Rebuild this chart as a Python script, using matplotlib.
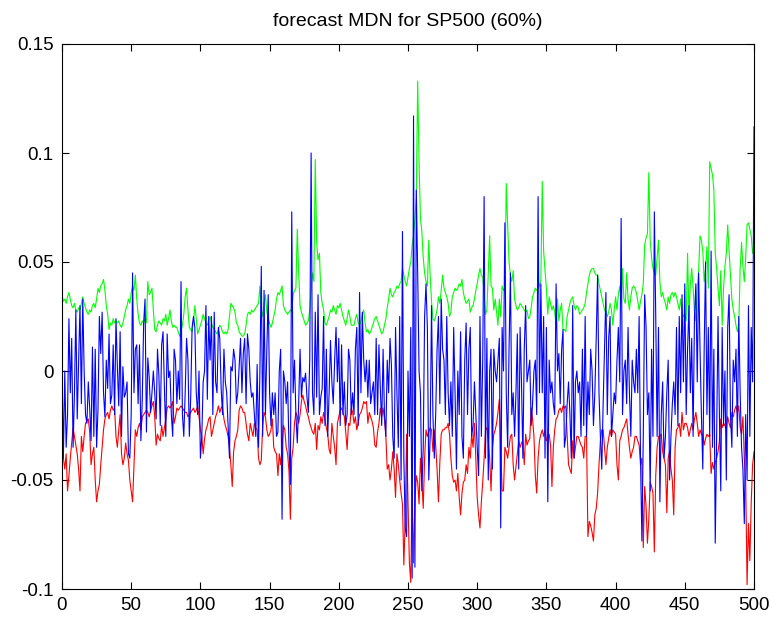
import matplotlib
matplotlib.use("Agg")
import matplotlib.pyplot as plt
import numpy as np

# Forecast band and realised returns, values in thousandths (index 0..500)
upper = [
    35, 32, 33, 31, 34, 36, 33, 30, 29, 31,
    28, 27, 29, 28, 31, 34, 31, 29, 27, 26,
    28, 27, 30, 31, 29, 33, 38, 36, 39, 40,
    42, 37, 30, 26, 19, 22, 21, 24, 22, 23,
    22, 23, 21, 20, 22, 25, 28, 30, 33, 31,
    36, 39, 37, 44, 33, 26, 22, 21, 23, 22,
    24, 22, 41, 35, 36, 38, 28, 19, 18, 21,
    23, 22, 21, 24, 23, 26, 21, 24, 28, 23,
    20, 21, 20, 20, 18, 16, 18, 21, 26, 34,
    38, 28, 20, 19, 18, 23, 30, 24, 17, 19,
    21, 23, 26, 24, 22, 21, 23, 25, 22, 20,
    19, 18, 17, 19, 21, 20, 18, 17, 18, 17,
    19, 25, 31, 30, 29, 27, 22, 21, 18, 17,
    16, 16, 17, 21, 26, 27, 26, 28, 27, 28,
    29, 30, 31, 39, 28, 25, 31, 35, 27, 24,
    22, 20, 22, 25, 28, 33, 36, 35, 37, 39,
    30, 28, 27, 26, 27, 28, 27, 35, 37, 38,
    65, 45, 30, 27, 25, 23, 21, 22, 23, 28,
    37, 45, 41, 97, 59, 51, 54, 36, 31, 28,
    22, 21, 23, 25, 28, 27, 30, 28, 26, 30,
    29, 31, 28, 25, 23, 21, 24, 28, 25, 21,
    21, 21, 24, 26, 22, 21, 23, 26, 28, 22,
    18, 19, 17, 18, 20, 22, 24, 25, 23, 21,
    19, 17, 18, 21, 24, 29, 33, 38, 35, 34,
    36, 37, 39, 38, 40, 41, 47, 44, 41, 39,
    43, 47, 50, 58, 62, 70, 80, 133, 95, 70,
    64, 52, 45, 41, 39, 60, 44, 32, 24, 23,
    25, 28, 34, 31, 37, 44, 38, 36, 34, 31,
    25, 27, 34, 36, 38, 37, 38, 40, 39, 42,
    36, 33, 31, 32, 33, 27, 29, 30, 33, 37,
    40, 44, 47, 44, 43, 35, 26, 28, 45, 62,
    39, 38, 28, 33, 27, 21, 33, 25, 39, 37,
    38, 86, 67, 50, 44, 41, 46, 33, 30, 28,
    29, 31, 30, 29, 28, 27, 28, 24, 25, 29,
    34, 36, 38, 37, 38, 39, 42, 87, 55, 46,
    38, 26, 34, 31, 28, 30, 27, 21, 33, 23,
    28, 31, 19, 19, 18, 25, 28, 31, 33, 34,
    30, 28, 30, 29, 26, 27, 28, 29, 31, 36,
    40, 44, 46, 47, 47, 45, 44, 44, 40, 37,
    34, 31, 28, 27, 25, 27, 31, 28, 21, 28,
    34, 28, 35, 39, 31, 47, 33, 31, 45, 33,
    28, 34, 38, 39, 38, 36, 32, 28, 32, 35,
    40, 58, 61, 63, 91, 60, 52, 47, 45, 44,
    52, 60, 41, 34, 36, 33, 31, 28, 34, 31,
    35, 36, 34, 36, 34, 31, 28, 33, 27, 25,
    26, 23, 54, 25, 40, 47, 38, 27, 23, 38,
    46, 62, 60, 55, 41, 47, 57, 38, 96, 93,
    90, 83, 54, 47, 38, 30, 46, 21, 38, 48,
    54, 67, 55, 44, 33, 28, 25, 21, 18, 21,
    47, 59, 48, 41, 52, 67, 68, 65, 62, 54,
    58,
]

lower = [
    -20, -40, -45, -38, -55, -48, -40, -33, -26, -30,
    -34, -38, -45, -55, -30, -37, -30, -24, -23, -22,
    -28, -43, -38, -35, -50, -60, -55, -52, -43, -35,
    -27, -22, -20, -19, -22, -18, -16, -18, -17, -30,
    -35, -27, -20, -38, -43, -40, -33, -38, -41, -50,
    -55, -60, -43, -27, -30, -26, -24, -27, -21, -20,
    -19, -18, -19, -21, -18, -16, -14, -21, -34, -29,
    -31, -32, -25, -30, -26, -22, -17, -16, -17, -16,
    -14, -24, -21, -17, -18, -17, -16, -17, -18, -19,
    -19, -21, -20, -19, -18, -17, -19, -18, -16, -21,
    -27, -30, -38, -31, -27, -25, -22, -21, -30, -27,
    -24, -21, -19, -16, -19, -17, -16, -22, -25, -27,
    -30, -35, -43, -53, -37, -32, -30, -27, -18, -16,
    -17, -19, -19, -24, -29, -32, -24, -27, -30, -24,
    -26, -27, -40, -43, -41, -25, -19, -21, -27, -30,
    -29, -27, -22, -35, -37, -38, -48, -38, -43, -35,
    -25, -27, -35, -38, -46, -68, -40, -35, -24, -19,
    -21, -24, -20, -14, -11, -14, -16, -19, -21, -24,
    -26, -28, -29, -24, -36, -25, -27, -21, -24, -19,
    -22, -26, -29, -36, -38, -24, -30, -35, -43, -24,
    -21, -18, -17, -19, -21, -28, -36, -24, -25, -17,
    -19, -24, -21, -27, -24, -20, -19, -17, -14, -15,
    -14, -24, -19, -21, -23, -26, -34, -35, -28, -24,
    -17, -21, -17, -22, -30, -45, -43, -50, -45, -37,
    -45, -58, -38, -43, -50, -56, -61, -89, -68, -29,
    -60, -88, -97, -55, -88, -60, -48, -51, -61, -40,
    -50, -63, -40, -27, -30, -28, -26, -27, -37, -27,
    -34, -45, -60, -42, -29, -27, -27, -26, -26, -24,
    -29, -40, -48, -51, -50, -55, -47, -58, -66, -56,
    -51, -50, -43, -47, -35, -40, -29, -35, -24, -40,
    -58, -66, -72, -60, -51, -40, -27, -26, -32, -40,
    -55, -35, -29, -27, -24, -19, -13, -35, -55, -55,
    -35, -37, -40, -35, -30, -29, -43, -50, -44, -38,
    -32, -35, -33, -32, -43, -29, -34, -32, -31, -17,
    -22, -30, -48, -56, -40, -32, -29, -27, -30, -27,
    -32, -30, -29, -34, -53, -35, -27, -22, -21, -18,
    -17, -19, -16, -17, -16, -30, -43, -45, -47, -32,
    -40, -35, -30, -30, -32, -34, -35, -40, -30, -30,
    -76, -69, -71, -74, -78, -66, -63, -56, -43, -32,
    -27, -27, -35, -43, -35, -31, -27, -30, -27, -28,
    -29, -43, -50, -32, -30, -27, -26, -24, -22, -29,
    -35, -40, -37, -35, -30, -30, -32, -34, -43, -40,
    -81, -53, -62, -79, -68, -51, -53, -56, -83, -48,
    -35, -30, -30, -29, -37, -40, -43, -65, -40, -37,
    -45, -50, -66, -35, -27, -26, -24, -30, -19, -27,
    -24, -24, -26, -30, -27, -24, -27, -22, -19, -24,
    -30, -27, -29, -29, -34, -31, -29, -30, -29, -47,
    -42, -45, -42, -40, -37, -32, -22, -26, -24, -25,
    -27, -21, -24, -26, -19, -21, -18, -16, -19, -16,
    -26, -29, -21, -40, -51, -98, -70, -87, -60, -43,
    -37,
]

actual = [
    2, -40, 0, -35, -20, 24, -10, 15, -35, -10,
    28, -22, 5, 30, -15, 33, 0, -20, -24, -5,
    -17, -32, 11, -30, 10, -35, -18, 25, 8, 27,
    -10, -21, 5, -8, 17, -15, -11, 12, -20, 24,
    2, -16, 18, -30, 2, -12, -10, -5, -38, -40,
    -20, 45, -10, 10, 12, -15, 12, -32, -13, 22,
    33, -28, 6, -3, -19, -10, 0, -10, -22, 10,
    -2, -25, 12, 18, -8, -30, 17, -3, 0, -20,
    -30, 10, 5, -15, 0, -13, 41, -20, -30, -10,
    15, 5, -30, -12, 20, 25, 20, -10, -20, 0,
    -40, -30, -5, 0, 30, -13, 25, 5, 25, -20,
    27, -5, -10, 20, 15, -8, -20, 10, -5, -10,
    -25, -40, 2, 0, 10, 5, -15, -10, 2, 15,
    -10, 8, 15, -15, 17, 10, -5, -12, -10, -20,
    -30, 3, -35, 0, 48, -30, 37, -20, 10, 35,
    -10, -25, -10, -20, -10, -30, -28, 0, 10, -68,
    0, -5, -15, -5, -35, -52, 73, -10, 5, -20,
    -33, -15, 10, -12, -3, -5, -1, -12, -19, 5,
    100, -10, -20, 27, -12, 35, -20, -12, -8, 25,
    -25, 10, -30, -10, 14, -5, -15, 5, 20, -5,
    15, -25, 12, -20, -5, -25, -20, 10, 5, -20,
    -10, -20, 10, 20, -25, 36, -10, 27, 5, -5,
    5, -12, 5, -15, -10, -5, -20, 15, -20, 12,
    -8, -25, 10, -20, -30, 5, -10, 15, 3, -30,
    -40, 20, -10, -35, 25, -50, 64, -40, -72, -76,
    0, -30, 20, -95, 117, -90, 83, 45, 0, -10,
    -55, -35, 25, 40, 20, -50, -30, 30, -20, -40,
    -20, 10, 25, -15, 33, 10, 5, -20, 25, -10,
    -25, -5, -30, 20, -10, -45, 0, -20, 18, -30,
    -40, 5, 22, -20, 10, 20, -30, -25, -5, -20,
    -35, -48, 25, -30, 5, 80, -40, 15, -50, 0,
    10, -45, 10, 0, -5, 5, 15, -72, 20, 0,
    68, -10, -35, 10, 45, -20, -10, -30, -10, 17,
    -45, 20, -5, -40, 10, 30, -5, 0, 5, -25,
    -15, 0, 5, -20, 80, -10, 40, -10, 25, -40,
    20, -60, 5, -10, -5, -15, -20, 40, 0, 8,
    -15, 10, 19, -35, -30, -15, -5, -20, -40, 30,
    -40, -5, 0, -10, -5, -30, 10, -25, 25, -30,
    -5, -20, 10, 0, -25, -10, 15, 44, -10, -30,
    -45, -15, 10, 36, -20, 15, 25, -30, -20, -10,
    -15, 5, 20, -5, 70, -20, 0, 5, -15, 20,
    -10, -30, 5, -5, -10, 10, -10, 25, -40, -78,
    -30, 35, 20, -20, -10, -55, 10, -30, 73, 25,
    -30, 20, -60, -20, -5, -40, -30, -10, 5, -50,
    -30, -15, -5, -20, 20, -25, 25, -10, 35, -5,
    40, -20, 10, 30, -10, 15, -30, 25, 40, -5,
    45, 10, -20, -45, 10, 50, -20, 20, -30, 55,
    -35, 10, -79, -30, 25, -20, -55, 20, -25, 0,
    -50, 20, 35, -20, -35, 5, -5, 10, -30, 25,
    -10, -35, -45, -70, -20, -50, 30, -30, 20, -5,
    112,
]

x_ticks = [0, 50, 100, 150, 200, 250, 300, 350, 400, 450, 500]
y_ticks = [-0.1, -0.05, 0, 0.05, 0.1, 0.15]
y_tick_labels = ["-0.1", "-0.05", "0", "0.05", "0.1", "0.15"]
title = "forecast MDN for SP500 (60%)"

t = np.arange(len(actual))
up = np.array(upper) / 1000.0
lo = np.array(lower) / 1000.0
act = np.array(actual) / 1000.0

plt.rcParams["font.family"] = ["Liberation Sans", "DejaVu Sans"]

W, H = 774, 618
fig = plt.figure(figsize=(W / 100, H / 100), dpi=100)
ax = fig.add_axes([62 / W, 29 / H, 692 / W, 545 / H])

ax.plot(t, up, color=(0, 1, 0), lw=0.8)
ax.plot(t, lo, color=(1, 0, 0), lw=0.8)
ax.plot(t, act, color=(0, 0, 1), lw=0.8)

ax.set_xlim(0, 500)
ax.set_ylim(-0.1, 0.15)
ax.set_xticks(x_ticks)
ax.set_xticklabels([str(v) for v in x_ticks])
ax.set_yticks(y_ticks)
ax.set_yticklabels(y_tick_labels)
ax.tick_params(direction="in", top=True, right=True, length=5, width=0.8,
               labelsize=13.5, pad=6, colors="black")
for s in ax.spines.values():
    s.set_linewidth(0.8)
    s.set_color("black")

ax.set_title(title, fontsize=14, pad=13)

fig.savefig("out.png", dpi=100)
